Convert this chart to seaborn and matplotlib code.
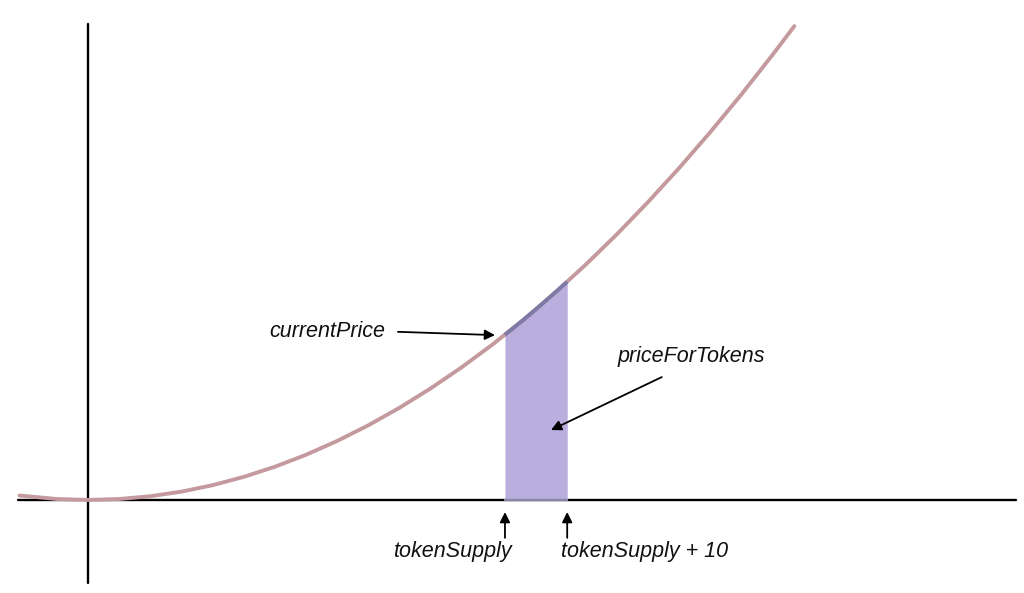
import matplotlib
matplotlib.use("Agg")
import matplotlib.pyplot as plt
import seaborn as sns
import pandas as pd

# price curve (supply -> price)
supply = [-11, -5, 0, 5, 10, 15, 20, 25, 30, 35, 40, 45, 50, 55, 60, 65, 70, 75,
          80, 85, 90, 95, 100, 105, 110, 113.5]
price = [1.2, 0.25, 0, 0.25, 1.0, 2.25, 4.0, 6.25, 9.0, 12.25, 16.0, 20.25, 25.0,
         30.25, 36.0, 42.25, 49.0, 56.25, 64.0, 72.25, 81.0, 90.25, 100.0, 110.25,
         121.0, 128.8]

# shaded area between tokenSupply and tokenSupply + 10
token_supply = 67
fill_supply = [67, 70, 72.5, 75, 77]
fill_price = [44.9, 49.0, 52.6, 56.3, 59.3]

sns.set_theme(style="white")
plt.rcParams['font.family'] = ['Liberation Sans', 'DejaVu Sans']

fig = plt.figure(figsize=(10.24, 5.93), dpi=100)
ax = fig.add_axes([0, 0, 1, 1])
ax.set_xlim(-14.14, 150.4)
ax.set_ylim(-25.3, 135.9)
ax.axis("off")

# axes cross
ax.plot([-11.2, 149.1], [0, 0], color="black", lw=1.7, zorder=1)
ax.plot([0, 0], [-22.6, 129.3], color="black", lw=1.7, zorder=1)

ax.fill_between(fill_supply, 0, fill_price, color="#b9aedd", lw=0, zorder=2)
ax.plot([fill_supply[0], fill_supply[-1]], [0, 0], color="#8a86a8", lw=1.7, zorder=2)

df = pd.DataFrame({"supply": supply, "price": price})
sns.lineplot(data=df, x="supply", y="price", sort=False, color="#c49a9e",
             lw=2.8, ax=ax, zorder=3)
ax.plot(fill_supply, fill_price, color="#7d7aa6", lw=2.8, zorder=4,
        solid_capstyle="butt")

arrow = dict(arrowstyle="-|>", color="black", lw=1.3, mutation_scale=15,
             shrinkA=0, shrinkB=0)
txt = dict(fontsize=15.5, style="italic", color="#111111", ha="center", va="center")

ax.text(38.4, 45.9, "currentPrice", **txt)
ax.annotate("", xy=(65.4, 44.8), xytext=(49.8, 45.7), arrowprops=arrow)

ax.text(97.0, 38.9, "priceForTokens", **txt)
ax.annotate("", xy=(74.4, 19.0), xytext=(92.2, 33.4), arrowprops=arrow)

ax.annotate("", xy=(token_supply, -3.3), xytext=(token_supply, -10.3), arrowprops=arrow)
ax.text(58.6, -13.9, "tokenSupply", **txt)
ax.annotate("", xy=(token_supply + 10, -3.3), xytext=(token_supply + 10, -10.3),
            arrowprops=arrow)
ax.text(89.5, -13.9, "tokenSupply + 10", **txt)

fig.savefig("out.png", dpi=100)
plt.close(fig)
